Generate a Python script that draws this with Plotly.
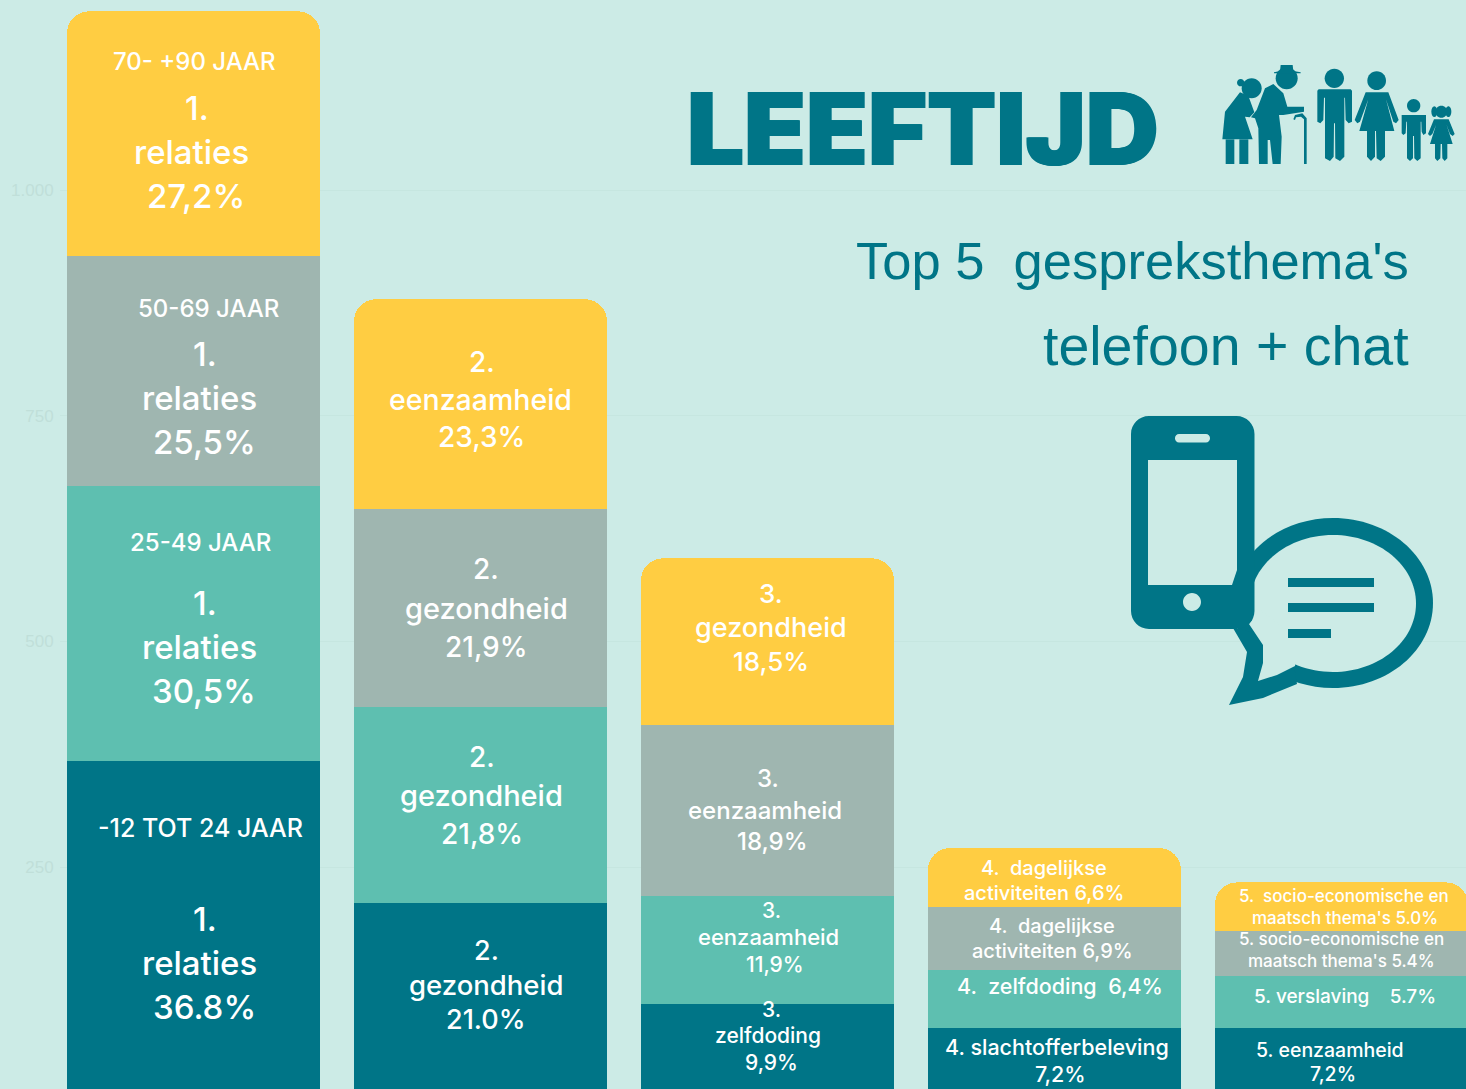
import plotly.graph_objects as go

CATEGORIES = ["1", "2", "3", "4", "5"]
AGE_12_24 = [368, 210, 98, 72, 72]
AGE_25_49 = [304, 217, 120, 64, 57]
AGE_50_69 = [255, 220, 189, 70, 50]
AGE_70_90 = [271, 232, 185, 65, 54]
Y_TICKS = [0, 250, 500, 750, 1000]
SERIES_NAMES = ["-12 TOT 24 JAAR", "25-49 JAAR", "50-69 JAAR", "70- +90 JAAR"]

DARK, TEAL, GREY, YELLOW = "#007587", "#5EBFB0", "#9FB6B0", "#FFCD42"
BG = "#CCEBE6"
W, H, LEFT = 1466, 1089, 60
FONT = "Inter"

fig = go.Figure()
for name, vals, col in zip(SERIES_NAMES, [AGE_12_24, AGE_25_49, AGE_50_69, AGE_70_90], [DARK, TEAL, GREY, YELLOW]):
    fig.add_bar(x=CATEGORIES, y=vals, name=name, marker=dict(color=col, line_width=0), hoverinfo="name+y")

def px(x, y):
    return (x - LEFT) / (W - LEFT), 1 - y / H

# (text, centre x, centre y, size)
LABELS = [
    ("70- +90 JAAR", 194, 62, 24), ("1.", 197, 108, 33), ("relaties", 191, 152, 33), ("27,2%", 196, 196, 33),
    ("50-69 JAAR", 208, 308, 24), ("1.", 205, 354, 33), ("relaties", 199, 398, 33), ("25,5%", 204, 442, 33),
    ("25-49 JAAR", 200, 542, 24), ("1.", 205, 603, 33), ("relaties", 199, 647, 33), ("30,5%", 204, 691, 33),
    ("-12 TOT 24 JAAR", 200, 828, 25), ("1.", 205, 919, 33), ("relaties", 199, 963, 33), ("36.8%", 204, 1007, 33),
    ("2.", 482, 362, 28), ("eenzaamheid", 480, 400, 28.5), ("23,3%", 482, 437, 28),
    ("2.", 486, 569, 28), ("gezondheid", 486, 608, 29), ("21,9%", 486, 647, 28),
    ("2.", 482, 757, 28), ("gezondheid", 482, 795, 29), ("21,8%", 482, 834, 28),
    ("2.", 486, 950, 27), ("gezondheid", 486, 985, 27.5), ("21.0%", 486, 1019, 27),
    ("3.", 771, 593, 26), ("gezondheid", 771, 627, 27), ("18,5%", 771, 661, 26),
    ("3.", 768, 778, 24), ("eenzaamheid", 765, 810, 24), ("18,9%", 772, 841, 24),
    ("3.", 771, 910, 21), ("eenzaamheid", 768, 937, 22), ("11,9%", 775, 964, 21),
    ("3.", 771, 1009, 21), ("zelfdoding", 768, 1035, 21), ("9,9%", 771, 1062, 21),
    ("4.  dagelijkse", 1044, 868, 20), ("activiteiten 6,6%", 1044, 893, 20),
    ("4.  dagelijkse", 1052, 926, 20), ("activiteiten 6,9%", 1052, 951, 20),
    ("4.  zelfdoding  6,4%", 1060, 986, 21.5),
    ("4. slachtofferbeleving", 1057, 1047, 21.5), ("7,2%", 1060, 1074, 21.5),
    ("5.  socio-economische en", 1344, 896, 17), ("maatsch thema's 5.0%", 1345, 918, 17),
    ("5. socio-economische en", 1341, 939, 17), ("maatsch thema's 5.4%", 1341, 961, 17),
    ("5. verslaving    5.7%", 1345, 996, 19),
    ("5. eenzaamheid", 1330, 1050, 19.5), ("7,2%", 1333, 1074, 19.5),
]

annotations = []
for text, cx, cy, size in LABELS:
    ax, ay = px(cx, cy)
    annotations.append(dict(text=text, xref="paper", yref="paper", x=ax, y=ay, xanchor="center", yanchor="middle",
                            showarrow=False, font=dict(family=FONT, size=size, color="white", weight=500)))

def head(text, right, y, size, family, **kw):
    ax, ay = px(right, y)
    annotations.append(dict(text=text, xref="paper", yref="paper", x=ax, y=ay, xanchor="right", yanchor="middle",
                            showarrow=False, font=dict(family=family, size=size, color=DARK, **kw)))

head("LEEFTIJD", 1161, 128, 101, "Inter", weight=900, shadow=f"1px 0 0 {DARK}, -1px 0 0 {DARK}")
head("Top 5  gespreksthema's", 1411, 260, 52.5, "Liberation Sans")
head("telefoon + chat", 1411, 346, 55.5, "Liberation Sans")

# ---- decorative icons, drawn in page pixels ----
def P(pts):
    out = []
    for i, (x, y) in enumerate(pts):
        a, b = px(x, y)
        out.append(("M" if i == 0 else "L") + f"{a:.5f},{b:.5f}")
    return " ".join(out) + " Z"

def ell(cx, cy, rx, ry):
    k = 0.5523
    f = lambda x, y: "{:.5f},{:.5f}".format(*px(x, y))
    return (f"M{f(cx - rx, cy)} C{f(cx - rx, cy - k * ry)} {f(cx - k * rx, cy - ry)} {f(cx, cy - ry)} "
            f"C{f(cx + k * rx, cy - ry)} {f(cx + rx, cy - k * ry)} {f(cx + rx, cy)} "
            f"C{f(cx + rx, cy + k * ry)} {f(cx + k * rx, cy + ry)} {f(cx, cy + ry)} "
            f"C{f(cx - k * rx, cy + ry)} {f(cx - rx, cy + k * ry)} {f(cx - rx, cy)} Z")

def rrect(x0, y0, x1, y1, r):
    k = 0.5523 * r
    f = lambda x, y: "{:.5f},{:.5f}".format(*px(x, y))
    return (f"M{f(x0 + r, y0)} L{f(x1 - r, y0)} C{f(x1 - r + k, y0)} {f(x1, y0 + r - k)} {f(x1, y0 + r)} "
            f"L{f(x1, y1 - r)} C{f(x1, y1 - r + k)} {f(x1 - r + k, y1)} {f(x1 - r, y1)} "
            f"L{f(x0 + r, y1)} C{f(x0 + r - k, y1)} {f(x0, y1 - r + k)} {f(x0, y1 - r)} "
            f"L{f(x0, y0 + r)} C{f(x0, y0 + r - k)} {f(x0 + r - k, y0)} {f(x0 + r, y0)} Z")

shapes = []
def fill(path, color=DARK):
    shapes.append(dict(type="path", path=path, xref="paper", yref="paper", fillcolor=color, line_width=0, layer="above"))

# speech bubble (behind the phone)
fill(ell(1333, 603, 100, 85))
fill(P([(1233, 628), (1247, 652), (1243, 677), (1229, 705), (1263, 698), (1297, 684), (1290, 640)]))
fill(ell(1333, 603.5, 83, 68.5), BG)
fill(P([(1249, 624), (1263, 645), (1263, 663), (1258, 681), (1277, 675), (1295, 666), (1300, 640), (1260, 610)]), BG)
for y0, x1 in [(578, 1374), (603, 1374), (629, 1331)]:
    fill(P([(1288, y0), (x1, y0), (x1, y0 + 9), (1288, y0 + 9)]))
# phone, with the screen, speaker and button cut out
fill(" ".join([rrect(1131, 416, 1254.5, 629, 18), rrect(1175, 434, 1210, 442.5, 4),
               P([(1148, 460), (1237, 460), (1237, 570), (1232, 585), (1148, 585)]), ell(1192, 602, 9, 9)]))

# family silhouettes, outlined on a 3x tracing grid
def Z6(pts):
    return P([(1215 + x / 3, 60 + y / 3) for x, y in pts])
def Z7(pts):
    return P([(1310 + x / 3, 60 + y / 3) for x, y in pts])
def E6(x, y, rx, ry=None):
    return ell(1215 + x / 3, 60 + y / 3, rx / 3, (ry or rx) / 3)
def E7(x, y, rx, ry=None):
    return ell(1310 + x / 3, 60 + y / 3, rx / 3, (ry or rx) / 3)

fill(E6(110, 85, 30)); fill(E6(77, 68, 11))
fill(Z6([(75, 97), (100, 107), (118, 157), (104, 172), (90, 170), (113, 238), (22, 238), (30, 155)]))
fill(Z6([(32, 238), (58, 238), (58, 312), (32, 312)])); fill(Z6([(73, 238), (100, 238), (100, 312), (73, 312)]))
fill(E6(215, 55, 33))
fill(Z6([(177, 37), (195, 33), (197, 15), (233, 15), (235, 33), (257, 37), (257, 40), (177, 40)]))
fill(Z6([(175, 72), (205, 100), (217, 140), (267, 140), (267, 155), (205, 165), (192, 165), (200, 230), (197, 312),
         (173, 312), (165, 240), (158, 240), (158, 312), (132, 312), (130, 205), (120, 175), (108, 172), (125, 150), (150, 85)]))
fill(Z6([(235, 178), (240, 165), (262, 160), (275, 175), (275, 312), (267, 312), (267, 178), (258, 170), (243, 172), (240, 180)]))

fill(E7(73, 55, 29))
fill(Z7([(22, 92), (26, 88), (122, 88), (126, 92), (126, 185), (116, 190), (107, 180), (105, 113), (103, 113), (103, 290),
         (90, 303), (76, 295), (75, 190), (72, 190), (71, 290), (60, 303), (45, 295), (45, 113), (42, 113), (40, 180), (31, 190), (22, 185)]))
fill(E7(200, 62, 28))
fill(Z7([(167, 97), (235, 97), (266, 180), (258, 190), (250, 185), (228, 118), (253, 213), (225, 213), (225, 290), (212, 303),
         (200, 295), (198, 213), (195, 213), (195, 290), (183, 303), (171, 290), (171, 213), (148, 213), (175, 118), (150, 185), (142, 190), (134, 180)]))
fill(E7(311, 137, 20))
fill(Z7([(275, 165), (348, 165), (348, 220), (340, 225), (335, 215), (334, 185), (332, 185), (332, 295), (322, 303), (313, 295),
         (312, 228), (309, 228), (309, 295), (300, 303), (291, 295), (291, 185), (289, 185), (287, 220), (280, 225), (275, 220)]))
fill(E7(394, 155, 18)); fill(E7(373, 155, 9, 16)); fill(E7(415, 155, 9, 16))
fill(Z7([(372, 178), (416, 178), (434, 222), (428, 228), (420, 222), (410, 195), (428, 252), (412, 252), (412, 295), (404, 303),
         (397, 295), (396, 252), (392, 252), (391, 295), (382, 303), (375, 295), (375, 252), (360, 252), (378, 195), (367, 222), (360, 228), (354, 222)]))

Y_PX_0, Y_PX_1000 = 1092.7, 190.0
scale = (Y_PX_0 - Y_PX_1000) / 1000
fig.update_layout(
    width=W, height=H, autosize=False, margin=dict(l=LEFT, r=0, t=0, b=0, pad=0),
    barmode="stack", bargap=34 / 287, barcornerradius=22,
    paper_bgcolor=BG, plot_bgcolor=BG, showlegend=False, separators=",.",
    annotations=annotations, shapes=shapes,
    xaxis=dict(type="category", range=[(LEFT - 193.5) / 287, (W - 193.5) / 287], showticklabels=False, showgrid=False, zeroline=False, ticks=""),
    yaxis=dict(range=[(Y_PX_0 - H) / scale, Y_PX_0 / scale], tickvals=Y_TICKS, tickformat=",d", ticks="outside", ticklen=2, tickcolor=BG,
               zeroline=False, gridcolor="#C6E6E0", gridwidth=1,
               tickfont=dict(family="Liberation Sans", size=17, color="#C0DFD9"), automargin=False),
)
fig.write_html("out.html", config={"displayModeBar": False},
               post_script="document.body.style.margin='0';document.body.style.overflow='hidden';")
